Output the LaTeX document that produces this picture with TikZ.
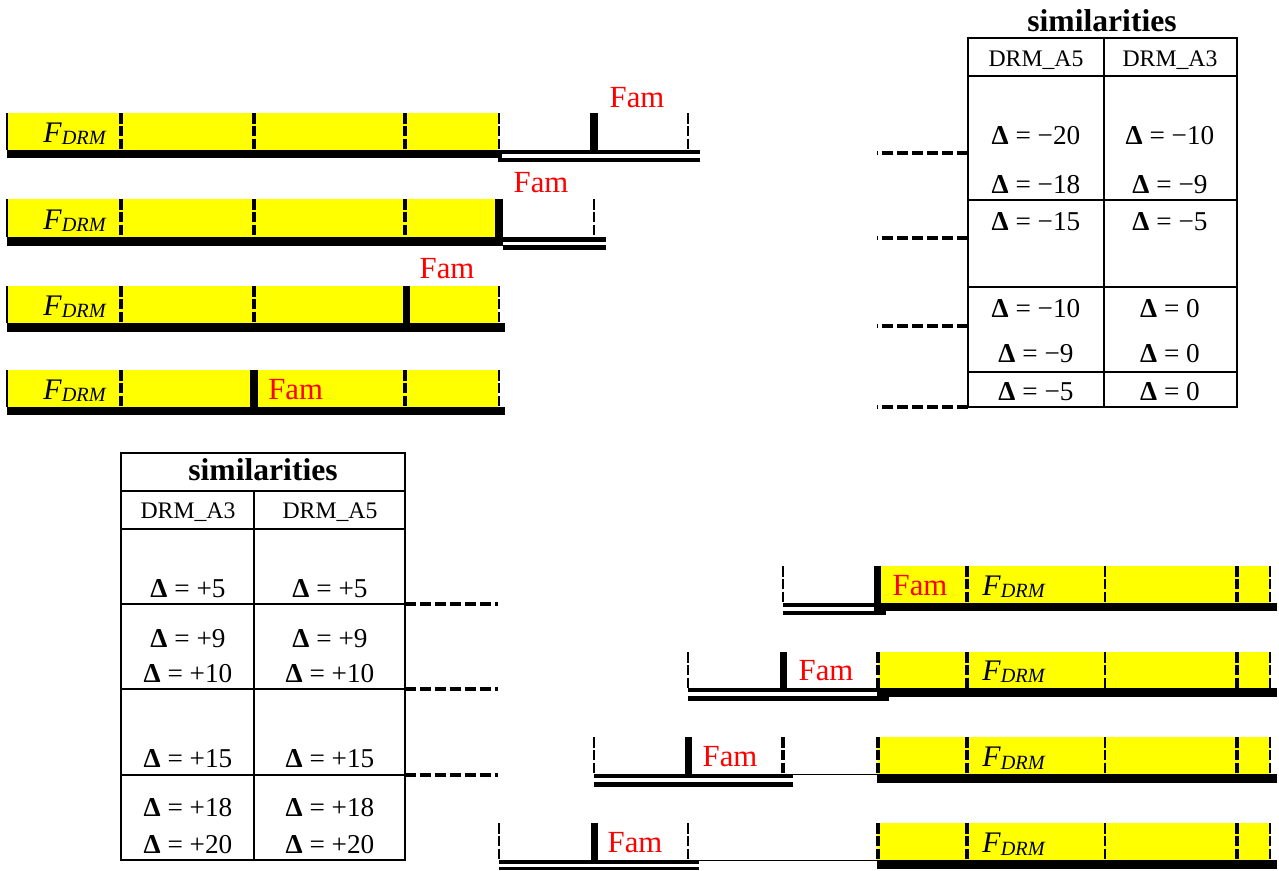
\documentclass[tikz,border=0pt]{standalone}
\usepackage{fontspec}
\setmainfont{Liberation Serif}
\usepackage{tikz}
\definecolor{barfill}{RGB}{255,255,0}
\definecolor{famred}{RGB}{255,0,0}
\newcommand{\Fdrm}{\textit{F}\raisebox{-0.1em}{\fontsize{11.5}{13}\selectfont\itshape DRM}}

\begin{document}
\begin{tikzpicture}[
    x=0.02cm, y=-0.02cm,
    band/.style={fill=barfill},
    famtext/.style={text=famred, font=\fontsize{17.5}{20}\selectfont, anchor=base, inner sep=0pt},
    drmtext/.style={font=\fontsize{17}{20}\selectfont, anchor=base west, inner sep=0pt},
    deltacell/.style={font=\fontsize{15.5}{18}\selectfont, anchor=base, inner sep=0pt},
    colhead/.style={font=\fontsize{13.5}{16}\selectfont, anchor=base, inner sep=0pt},
    tabtitle/.style={font=\bfseries\fontsize{18}{20}\selectfont, anchor=base, inner sep=0pt},
    tabline/.style={line width=1.1pt},
    sepwide/.style={line width=2.8pt, dash pattern=on 6pt off 1.3pt},
    sepmid/.style={line width=2pt, dash pattern=on 6pt off 1.3pt},
    septhin/.style={line width=1.1pt, dash pattern=on 6pt off 1.3pt},
    link/.style={line width=2pt, dash pattern=on 6.2pt off 2.3pt}
]
    \useasboundingbox (0,0) rectangle (1279,870);

    % Left shifts, row 1
    \fill[band] (7,113) rectangle (498,150);
    \draw[line width=0.8pt] (7,113) -- (7,150);
    \fill (7,150) rectangle (502,158);
    \fill (498,150) rectangle (700,154);
    \fill (498,158) rectangle (700,162);
    \fill (590,113) rectangle (598,154);
    \draw[sepwide] (121,113) -- (121,150);
    \draw[sepmid] (254,113) -- (254,150) (405,113) -- (405,150);
    \draw[septhin] (499,113) -- (499,150) (688,113) -- (688,150);
    \node[drmtext] (fdrm1) at (43,142) {\Fdrm};
    \node[famtext] (fam1) at (637,107) {Fam};

    % Left shifts, row 2
    \fill[band] (7,199) rectangle (495,237);
    \draw[line width=0.8pt] (7,199) -- (7,237);
    \fill (7,237) rectangle (503,246);
    \fill (495,199) rectangle (503,246);
    \fill (503,237) rectangle (606,242);
    \fill (503,245) rectangle (606,250);
    \draw[sepwide] (121,199) -- (121,237);
    \draw[sepmid] (254,199) -- (254,237) (405,199) -- (405,237);
    \draw[septhin] (594,199) -- (594,237);
    \node[drmtext] (fdrm2) at (43,229) {\Fdrm};
    \node[famtext] (fam2) at (541,192) {Fam};

    % Left shifts, row 3
    \fill[band] (7,286) rectangle (498,323);
    \draw[line width=0.8pt] (7,286) -- (7,323);
    \fill (7,323) rectangle (505,332);
    \fill (403,286) rectangle (410,323);
    \draw[sepwide] (121,286) -- (121,323);
    \draw[sepmid] (254,286) -- (254,323);
    \draw[septhin] (499,286) -- (499,323);
    \node[drmtext] (fdrm3) at (43,315) {\Fdrm};
    \node[famtext] (fam3) at (447,278) {Fam};

    % Left shifts, row 4
    \fill[band] (7,370) rectangle (498,407);
    \draw[line width=0.8pt] (7,370) -- (7,407);
    \fill (7,407) rectangle (505,415);
    \fill (250,370) rectangle (258,407);
    \draw[sepwide] (121,370) -- (121,407);
    \draw[sepmid] (405,370) -- (405,407);
    \draw[septhin] (499,370) -- (499,407);
    \node[drmtext] (fdrm4) at (43,399) {\Fdrm};
    \node[famtext, anchor=base west] (fam4) at (268,399) {Fam};

    % Similarities, negative shifts
    \node[tabtitle] (simneg) at (1102,31) {similarities};
    \draw[tabline] (968,38) rectangle (1237,407);
    \draw[tabline] (968,76) -- (1237,76) (968,200) -- (1237,200)
        (968,287) -- (1237,287) (968,372) -- (1237,372) (1104,38) -- (1104,407);
    \node[colhead] (nega5) at (1036,66) {DRM\_A5};
    \node[colhead] (nega3) at (1170,66) {DRM\_A3};
    \node[deltacell] (na1) at (1036,144) {\textbf{Δ} = −20};
    \node[deltacell] (nb1) at (1170,144) {\textbf{Δ} = −10};
    \node[deltacell] (na2) at (1036,193) {\textbf{Δ} = −18};
    \node[deltacell] (nb2) at (1170,193) {\textbf{Δ} = −9};
    \node[deltacell] (na3) at (1036,230) {\textbf{Δ} = −15};
    \node[deltacell] (nb3) at (1170,230) {\textbf{Δ} = −5};
    \node[deltacell] (na4) at (1036,317) {\textbf{Δ} = −10};
    \node[deltacell] (nb4) at (1170,317) {\textbf{Δ} = 0};
    \node[deltacell] (na5) at (1036,362) {\textbf{Δ} = −9};
    \node[deltacell] (nb5) at (1170,362) {\textbf{Δ} = 0};
    \node[deltacell] (na6) at (1036,400) {\textbf{Δ} = −5};
    \node[deltacell] (nb6) at (1170,400) {\textbf{Δ} = 0};

    % Links to the negative table
    \coordinate (negrow1) at (968,153);  \coordinate (negend1) at (877,153);
    \coordinate (negrow2) at (968,238);  \coordinate (negend2) at (877,238);
    \coordinate (negrow3) at (968,326);  \coordinate (negend3) at (877,326);
    \coordinate (negrow4) at (968,407);  \coordinate (negend4) at (877,407);
    \draw[link] (negrow1) -- (negend1);
    \draw[link] (negrow2) -- (negend2);
    \draw[link] (negrow3) -- (negend3);
    \draw[link] (negrow4) -- (negend4);

    % Similarities, positive shifts
    \draw[tabline] (121,453) rectangle (405,860);
    \draw[tabline] (121,491) -- (405,491) (121,529) -- (405,529) (121,604) -- (405,604)
        (121,689) -- (405,689) (121,775) -- (405,775) (254,491) -- (254,860);
    \node[tabtitle] (simpos) at (263,480) {similarities};
    \node[colhead] (posa3) at (188,518) {DRM\_A3};
    \node[colhead] (posa5) at (330,518) {DRM\_A5};
    \node[deltacell] (pa1) at (188,597) {\textbf{Δ} = +5};
    \node[deltacell] (pb1) at (330,597) {\textbf{Δ} = +5};
    \node[deltacell] (pa2) at (188,647) {\textbf{Δ} = +9};
    \node[deltacell] (pb2) at (330,647) {\textbf{Δ} = +9};
    \node[deltacell] (pa3) at (188,682) {\textbf{Δ} = +10};
    \node[deltacell] (pb3) at (330,682) {\textbf{Δ} = +10};
    \node[deltacell] (pa4) at (188,767) {\textbf{Δ} = +15};
    \node[deltacell] (pb4) at (330,767) {\textbf{Δ} = +15};
    \node[deltacell] (pa5) at (188,816) {\textbf{Δ} = +18};
    \node[deltacell] (pb5) at (330,816) {\textbf{Δ} = +18};
    \node[deltacell] (pa6) at (188,853) {\textbf{Δ} = +20};
    \node[deltacell] (pb6) at (330,853) {\textbf{Δ} = +20};

    % Links to the positive table
    \coordinate (posrow1) at (405,604);  \coordinate (posend1) at (498,604);
    \coordinate (posrow2) at (405,689);  \coordinate (posend2) at (498,689);
    \coordinate (posrow3) at (405,775);  \coordinate (posend3) at (498,775);
    \draw[link] (posrow1) -- (posend1);
    \draw[link] (posrow2) -- (posend2);
    \draw[link] (posrow3) -- (posend3);

    % Right shifts, row A
    \fill[band] (880,566) rectangle (1270,603);
    \fill (876,603) rectangle (1277,611);
    \fill (874,566) rectangle (881,611);
    \fill (783,603) rectangle (878,607);
    \fill (783,611) rectangle (886,615);
    \draw[septhin] (783,566) -- (783,603) (1270,566) -- (1270,603) (1105,566) -- (1105,603);
    \draw[sepwide] (967,566) -- (967,603) (1237,566) -- (1237,603);
    \node[famtext] (famA) at (920,595) {Fam};
    \node[drmtext] (fdrmA) at (982,595) {\Fdrm};

    % Right shifts, row B
    \fill[band] (878,652) rectangle (1270,688);
    \fill (877,688) rectangle (1277,697);
    \fill (780,652) rectangle (787,692);
    \fill (688,688) rectangle (880,692);
    \fill (688,696) rectangle (889,701);
    \draw[septhin] (688,652) -- (688,688) (1270,652) -- (1270,688) (1105,652) -- (1105,688);
    \draw[sepmid] (878,652) -- (878,688);
    \draw[sepwide] (967,652) -- (967,688) (1237,652) -- (1237,688);
    \node[famtext] (famB) at (826,680) {Fam};
    \node[drmtext] (fdrmB) at (982,680) {\Fdrm};

    % Right shifts, row C
    \fill[band] (877,737) rectangle (1270,774);
    \fill (877,774) rectangle (1277,783);
    \fill (685,737) rectangle (692,778);
    \fill (594,774) rectangle (793,778);
    \fill (594,782) rectangle (793,787);
    \draw[line width=0.6pt] (783,774.5) -- (877,774.5);
    \draw[septhin] (594,737) -- (594,774) (1270,737) -- (1270,774) (1105,737) -- (1105,774);
    \draw[sepmid] (783,737) -- (783,774) (878,737) -- (878,774);
    \draw[sepwide] (967,737) -- (967,774) (1237,737) -- (1237,774);
    \node[famtext] (famC) at (730,766) {Fam};
    \node[drmtext] (fdrmC) at (982,766) {\Fdrm};

    % Right shifts, row D
    \fill[band] (877,823) rectangle (1270,860);
    \fill (877,860) rectangle (1277,869);
    \fill (591,823) rectangle (598,864);
    \fill (499,860) rectangle (699,864);
    \fill (499,866.5) rectangle (699,869.5);
    \draw[line width=0.6pt] (688,860.5) -- (877,860.5);
    \draw[septhin] (499,823) -- (499,860) (688,823) -- (688,860)
        (1270,823) -- (1270,860) (1105,823) -- (1105,860);
    \draw[sepmid] (878,823) -- (878,860);
    \draw[sepwide] (967,823) -- (967,860) (1237,823) -- (1237,860);
    \node[famtext] (famD) at (635,852) {Fam};
    \node[drmtext] (fdrmD) at (982,852) {\Fdrm};
\end{tikzpicture}
\end{document}
